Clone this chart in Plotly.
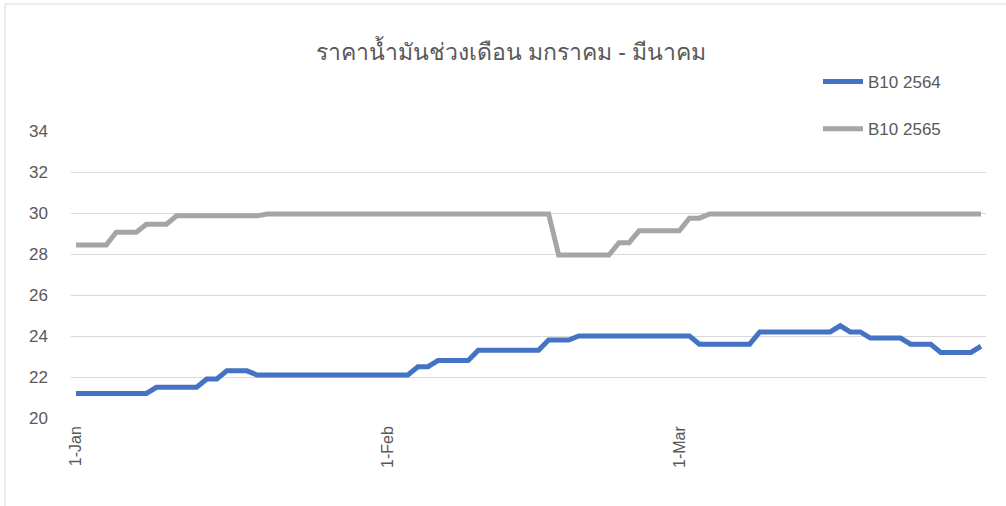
import plotly.graph_objects as go

# Category labels: one row per day, Jan (31), Feb (29), Mar (31)
month_names = ["Jan", "Feb", "Mar"]
month_days = [31, 29, 31]
categories = [f"{d}-{m}" for m, n in zip(month_names, month_days) for d in range(1, n + 1)]

tick_labels = ["1-Jan", "1-Feb", "1-Mar"]

# B10 2564 (blue)
b10_2564_jan = [21.2, 21.2, 21.2, 21.2, 21.2, 21.2, 21.2, 21.2,
                21.5, 21.5, 21.5, 21.5, 21.5,
                21.9, 21.9,
                22.3, 22.3, 22.3,
                22.1, 22.1, 22.1, 22.1, 22.1, 22.1, 22.1, 22.1, 22.1, 22.1, 22.1, 22.1, 22.1]
b10_2564_feb = [22.1, 22.1, 22.1,
                22.5, 22.5,
                22.8, 22.8, 22.8, 22.8,
                23.3, 23.3, 23.3, 23.3, 23.3, 23.3, 23.3,
                23.8, 23.8, 23.8,
                24.0, 24.0, 24.0, 24.0, 24.0, 24.0, 24.0, 24.0, 24.0, 24.0]
b10_2564_mar = [24.0, 24.0,
                23.6, 23.6, 23.6, 23.6, 23.6, 23.6,
                24.2, 24.2, 24.2, 24.2, 24.2, 24.2, 24.2, 24.2,
                24.5,
                24.2, 24.2,
                23.9, 23.9, 23.9, 23.9,
                23.6, 23.6, 23.6,
                23.2, 23.2, 23.2, 23.2,
                23.5]

# B10 2565 (grey)
b10_2565_jan = [28.44, 28.44, 28.44, 28.44,
                29.06, 29.06, 29.06,
                29.45, 29.45, 29.45,
                29.86, 29.86, 29.86, 29.86, 29.86, 29.86, 29.86, 29.86, 29.86,
                29.95, 29.95, 29.95, 29.95, 29.95, 29.95, 29.95, 29.95, 29.95, 29.95, 29.95, 29.95]
b10_2565_feb = [29.95, 29.95, 29.95, 29.95, 29.95, 29.95, 29.95, 29.95, 29.95, 29.95,
                29.95, 29.95, 29.95, 29.95, 29.95, 29.95, 29.95,
                27.95, 27.95, 27.95, 27.95, 27.95, 27.95,
                28.55, 28.55,
                29.13, 29.13, 29.13, 29.13]
b10_2565_mar = [29.13,
                29.75, 29.75,
                29.95, 29.95, 29.95, 29.95, 29.95, 29.95, 29.95, 29.95, 29.95, 29.95,
                29.95, 29.95, 29.95, 29.95, 29.95, 29.95, 29.95, 29.95, 29.95, 29.95,
                29.95, 29.95, 29.95, 29.95, 29.95, 29.95, 29.95, 29.95]

b10_2564 = b10_2564_jan + b10_2564_feb + b10_2564_mar
b10_2565 = b10_2565_jan + b10_2565_feb + b10_2565_mar

y_ticks = [20, 22, 24, 26, 28, 30, 32, 34]

title_text = "ราคาน้ำมันช่วงเดือน มกราคม - มีนาคม"

W, H = 1006, 506
L, R, T, B = 71, 20, 131, 88
pw, ph = W - L - R, H - T - B

def px_x(p):
    return (p - L) / pw

def px_y(p):
    return (H - B - p) / ph

font_fam = "Liberation Sans, Noto Sans, sans-serif"
txt_col = "#595959"

fig = go.Figure()
fig.add_trace(go.Scatter(x=categories, y=b10_2564, mode="lines", name="B10 2564",
                         line=dict(color="#4472C4", width=5, shape="linear"),
                         legendgroup="a"))
fig.add_trace(go.Scatter(x=categories, y=b10_2565, mode="lines", name="B10 2565",
                         line=dict(color="#A5A5A5", width=5, shape="linear"),
                         legendgroup="b"))

fig.update_layout(
    width=W, height=H,
    margin=dict(l=L, r=R, t=T, b=B, autoexpand=False),
    paper_bgcolor="white", plot_bgcolor="white",
    font=dict(family=font_fam, color=txt_col),
    title=dict(text=title_text, x=511 / W, xref="container", xanchor="center",
               y=1 - 52 / H, yref="container", yanchor="middle",
               font=dict(size=23, color=txt_col, family=font_fam)),
    showlegend=True,
    legend=dict(x=px_x(818), y=px_y(64), xanchor="left", yanchor="top",
                font=dict(size=17, color=txt_col), tracegroupgap=22,
                bgcolor="rgba(0,0,0,0)", itemwidth=40),
    xaxis=dict(type="category", range=[-0.5, len(categories) - 0.5],
               tickmode="array", tickvals=tick_labels, ticktext=tick_labels,
               tickangle=-90, showgrid=False, zeroline=False, showline=False,
               ticks="", tickfont=dict(size=16, color=txt_col),
               ticklabelstandoff=4),
    yaxis=dict(range=[20, 34], tickvals=y_ticks, showgrid=True,
               gridcolor="#D9D9D9", gridwidth=1, zeroline=False, showline=False,
               ticks="", tickfont=dict(size=17, color=txt_col),
               ticklabelstandoff=22),
    shapes=[dict(type="rect", xref="paper", yref="paper",
                 x0=px_x(5), x1=px_x(1012), y0=px_y(512), y1=px_y(4),
                 line=dict(color="#D9D9D9", width=1), fillcolor="rgba(0,0,0,0)",
                 layer="below")],
)

fig.write_html("out.html",
               config={"displayModeBar": False},
               post_script="document.body.style.margin='0';document.body.style.padding='0';")
